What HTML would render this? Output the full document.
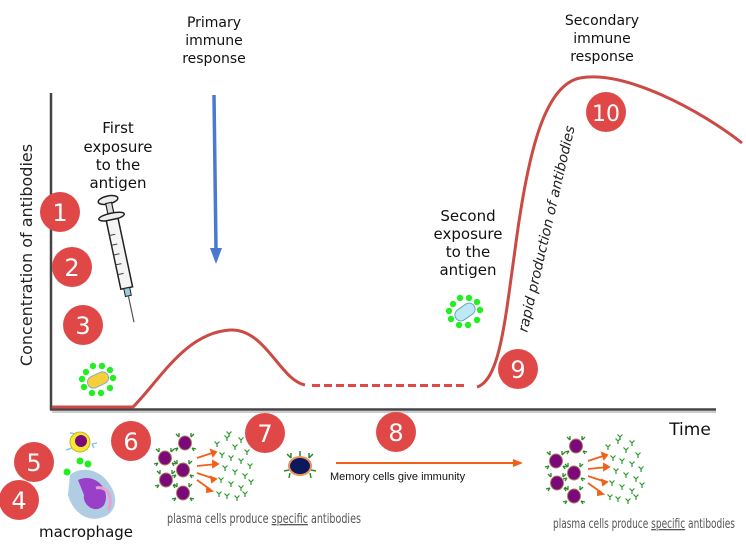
<!DOCTYPE html>
<html><head><meta charset="utf-8"><style>
html,body{margin:0;padding:0;background:#fff;}
svg{display:block;}
text{font-family:"DejaVu Sans","Liberation Sans",sans-serif;}
</style></head><body>
<svg width="746" height="556" viewBox="0 0 746 556" xmlns="http://www.w3.org/2000/svg">
<defs>
<g id="pc">
  <g stroke="#2a8a2a" stroke-width="1.3" fill="none">
    <path d="M-6,-6 l-3,-3 M-6,-6 l0,-4 M6,-6 l3,-3 M6,-6 l0,-4 M-7,5 l-4,1 M-7,5 l-2,3 M7,5 l4,1 M7,5 l2,3"/>
  </g>
  <ellipse rx="6.5" ry="7" fill="#7a0a7a" stroke="#b08060" stroke-width="1"/>
</g>
<g id="ab" stroke="#2a9a2a" stroke-width="1.2" fill="none"><path d="M0,0 l0,3 M0,0 l-2.5,-2.5 M0,0 l2.5,-2.5"/></g>
<g id="group">
  <use href="#pc" x="0" y="0"/>
  <use href="#pc" x="20" y="-15"/>
  <use href="#pc" x="18" y="12"/>
  <use href="#pc" x="1" y="22"/>
  <use href="#pc" x="18" y="35"/>
  <g stroke="#f06018" stroke-width="1.8" fill="none">
    <path d="M32,0 L50,-6 M32,8 L52,6 M32,15 L50,21 M32,22 L46,32"/>
    <path d="M46,-8 l5,2 -3,4 z M48,3 l5,3 -5,3 z M46,19 l5,2 -4,3 z M42,30 l5,3 -5,1 z" fill="#f06018"/>
  </g>
  <g>
    <use href="#ab" x="52" y="-14"/><use href="#ab" x="62" y="-20"/><use href="#ab" x="70" y="-11"/>
    <use href="#ab" x="76" y="-18"/><use href="#ab" x="82" y="-6"/><use href="#ab" x="57" y="-3"/>
    <use href="#ab" x="66" y="0"/><use href="#ab" x="76" y="3"/><use href="#ab" x="85" y="8"/>
    <use href="#ab" x="60" y="10"/><use href="#ab" x="70" y="14"/><use href="#ab" x="80" y="18"/>
    <use href="#ab" x="56" y="22"/><use href="#ab" x="66" y="26"/><use href="#ab" x="76" y="30"/>
    <use href="#ab" x="86" y="24"/><use href="#ab" x="54" y="36"/><use href="#ab" x="62" y="38"/>
    <use href="#ab" x="72" y="40"/><use href="#ab" x="80" y="36"/><use href="#ab" x="64" y="-24"/>
  </g>
</g>
<g id="antigen">
  <g fill="#22ee22">
    <circle cx="-12" cy="-8" r="3.2"/><circle cx="-5" cy="-14" r="3.2"/><circle cx="4" cy="-14" r="3.2"/>
    <circle cx="12" cy="-10" r="3.2"/><circle cx="15" cy="-2" r="3.2"/><circle cx="12" cy="8" r="3.2"/>
    <circle cx="3" cy="13" r="3.2"/><circle cx="-6" cy="13" r="3.2"/><circle cx="-14" cy="7" r="3.2"/>
    <circle cx="-16" cy="-1" r="3.2"/>
  </g>
</g>
</defs>

<!-- axes -->
<line x1="51" y1="93" x2="51" y2="410" stroke="#444" stroke-width="2.5"/>
<line x1="50" y1="409.5" x2="716" y2="409.5" stroke="#444" stroke-width="2.5"/>
<line x1="52" y1="412" x2="716" y2="412" stroke="#bbb" stroke-width="1.5"/>

<!-- curves -->
<path d="M52,407 L133,407 C160,380 185,333 230,330 C265,328 280,380 305,385" fill="none" stroke="#cc4a44" stroke-width="3"/>
<line x1="312" y1="385.5" x2="465" y2="385.5" stroke="#e04848" stroke-width="3" stroke-dasharray="8,4"/>
<path d="M477,387 C500,380 505,320 515,250 C528,150 545,85 580,78 C625,70 700,110 742,143" fill="none" stroke="#cc4a44" stroke-width="3"/>

<!-- blue arrow -->
<line x1="214" y1="95" x2="216" y2="250" stroke="#4a7ad0" stroke-width="3.5"/>
<path d="M210,248 L222,248 L216,264 Z" fill="#4a7ad0"/>

<!-- texts -->
<g font-size="14" fill="#111" text-anchor="middle">
  <text x="214" y="27">Primary</text><text x="214" y="45">immune</text><text x="214" y="63">response</text>
  <text x="602" y="25">Secondary</text><text x="602" y="43">immune</text><text x="602" y="61">response</text>
</g>
<g font-size="15" fill="#111" text-anchor="middle">
  <text x="118" y="133">First</text><text x="118" y="152">exposure</text><text x="118" y="170">to the</text><text x="118" y="188">antigen</text>
  <text x="468" y="221">Second</text><text x="468" y="239">exposure</text><text x="468" y="257">to the</text><text x="468" y="275">antigen</text>
  <text x="690" y="435" font-size="17">Time</text>
  <text x="86" y="537" font-size="15">macrophage</text>
</g>
<text transform="translate(32,255) rotate(-90)" font-size="16" fill="#222" text-anchor="middle">Concentration of antibodies</text>
<text transform="translate(551,230) rotate(-77)" font-size="14" fill="#222" text-anchor="middle" font-style="italic">rapid production of antibodies</text>

<!-- syringe -->
<g transform="translate(108,200) rotate(-12)">
  <ellipse cx="0" cy="0" rx="10" ry="4" fill="#eee" stroke="#222" stroke-width="1.5"/>
  <rect x="-3" y="3" width="6" height="12" fill="#ddd" stroke="#222" stroke-width="1.2"/>
  <ellipse cx="0" cy="17" rx="13" ry="3.5" fill="#eee" stroke="#222" stroke-width="1.5"/>
  <rect x="-6" y="20" width="12" height="70" fill="#f4f4f4" stroke="#222" stroke-width="1.5"/>
  <g stroke="#444" stroke-width="1"><path d="M-6,35h6M-6,45h6M-6,55h6M-6,65h6M-6,75h6"/></g>
  <rect x="-3" y="90" width="6" height="8" fill="#9cd" stroke="#222"/>
  <line x1="0" y1="98" x2="0" y2="125" stroke="#555" stroke-width="1.2"/>
</g>

<!-- antigens -->
<g transform="translate(98,380)"><use href="#antigen"/><rect x="-11" y="-6" width="22" height="12" rx="6" fill="#f7cf3a" stroke="#8ab" transform="rotate(-25)"/></g>
<g transform="translate(465,312)"><use href="#antigen"/><rect x="-11" y="-6" width="22" height="12" rx="6" fill="#bfe8f6" stroke="#6ab" transform="rotate(-35)"/></g>

<!-- macrophage area -->
<g stroke="#8bc8f0" stroke-width="1.5" fill="none"><path d="M74,434 l3,5 M70,433 l7,1 M92,444 l5,-1 M92,444 l2,4 M66,450 l6,-2"/></g>
<circle cx="80" cy="442" r="10" fill="#f5e830" stroke="#c9b020"/>
<circle cx="81" cy="441" r="6" fill="#7a0a7a"/>
<circle cx="80" cy="461" r="3.5" fill="#22ee22"/><circle cx="88" cy="464" r="3.5" fill="#22ee22"/><circle cx="67" cy="472" r="3.5" fill="#22ee22"/>
<path d="M70,475 C80,466 100,468 110,485 C120,500 115,515 100,518 C85,522 72,510 68,495 Z" fill="#a8c8e0" opacity="0.9"/>
<path d="M78,480 C95,472 112,490 104,505 C96,515 82,505 84,495 Z" fill="#9a40c8"/>
<path d="M96,488 C108,485 114,500 108,510" stroke="#e8a0d0" stroke-width="3" fill="none"/>

<!-- memory cell -->
<g transform="translate(300,466)">
  <g stroke="#2a8a2a" stroke-width="1.5" fill="none"><path d="M-9,-8 l-4,-4 M-9,-8 l0,-5 M9,-8 l4,-4 M9,-8 l0,-5 M-11,4 l-5,1 M-10,7 l-1,5 M11,4 l5,1 M10,7 l1,5 M0,-10 l0,-5"/></g>
  <ellipse rx="12" ry="10" fill="#e89060"/><ellipse rx="10" ry="8" fill="#0a1a5a"/>
</g>
<line x1="336" y1="463" x2="515" y2="463" stroke="#f06018" stroke-width="2"/>
<path d="M513,459 L523,463 L513,467 Z" fill="#f06018"/>
<text x="330" y="480" font-size="11" fill="#111" style="font-family:'Liberation Sans',sans-serif">Memory cells give immunity</text>

<!-- plasma groups -->
<use href="#group" x="165" y="458"/>
<use href="#group" x="556" y="461"/>
<g font-size="13" fill="#555" style="font-family:'Liberation Sans Narrow','Liberation Sans',sans-serif">
<text x="167" y="523" textLength="194" lengthAdjust="spacingAndGlyphs">plasma cells produce <tspan text-decoration="underline">specific</tspan> antibodies</text>
<text x="553" y="528" textLength="182" lengthAdjust="spacingAndGlyphs">plasma cells produce <tspan text-decoration="underline">specific</tspan> antibodies</text>
</g>

<!-- numbered circles -->
<g fill="#e04848">
  <circle cx="60" cy="212" r="20"/><circle cx="72" cy="267" r="20"/><circle cx="83" cy="325" r="20"/>
  <circle cx="19" cy="500" r="20"/><circle cx="34" cy="462" r="20"/><circle cx="131" cy="441" r="20"/>
  <circle cx="265" cy="433" r="20"/><circle cx="396" cy="432" r="20"/><circle cx="518" cy="369" r="20"/>
  <circle cx="606" cy="112" r="20"/>
</g>
<g fill="#fff" font-size="24" text-anchor="middle" style="font-family:'Liberation Sans',sans-serif">
  <text x="60" y="221">1</text><text x="72" y="276">2</text><text x="83" y="334">3</text>
  <text x="19" y="509">4</text><text x="34" y="471">5</text><text x="131" y="450">6</text>
  <text x="265" y="442">7</text><text x="396" y="441">8</text><text x="518" y="378">9</text>
  <text x="606" y="121" font-size="22">10</text>
</g>
</svg>
</body></html>
